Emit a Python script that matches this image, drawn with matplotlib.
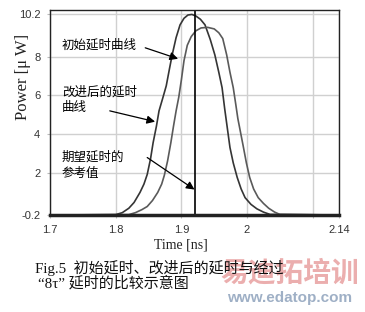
import matplotlib
matplotlib.use("Agg")
import matplotlib.pyplot as plt

# ---- data ----
improved_t = [1.70, 1.800, 1.810, 1.820, 1.828, 1.837, 1.843, 1.848, 1.853, 1.857, 1.862, 1.866,
              1.872, 1.877, 1.882, 1.886, 1.892, 1.898, 1.904, 1.910, 1.916, 1.922, 1.929, 1.936,
              1.944, 1.951, 1.957, 1.962, 1.966, 1.970, 1.974, 1.979, 1.985, 1.991, 1.997, 2.006,
              2.015, 2.025, 2.035, 2.14]
improved_p = [-0.2, -0.18, -0.08, 0.15, 0.45, 0.97, 1.4, 1.9, 2.7, 3.55, 4.4, 5.2,
              5.9, 6.5, 7.4, 8.1, 9.0, 9.66, 10.0, 10.17, 10.2, 10.12, 9.95, 9.66,
              8.9, 8.1, 7.2, 6.4, 5.3, 4.3, 3.3, 2.5, 1.75, 1.15, 0.7, 0.35,
              0.12, -0.05, -0.17, -0.2]

initial_t = [1.70, 1.820, 1.830, 1.840, 1.848, 1.856, 1.864, 1.870, 1.874, 1.879, 1.884, 1.888,
             1.892, 1.896, 1.900, 1.904, 1.909, 1.915, 1.922, 1.930, 1.940, 1.950, 1.957, 1.963,
             1.969, 1.974, 1.979, 1.983, 1.986, 1.990, 1.994, 1.999, 2.004, 2.010, 2.017, 2.025,
             2.033, 2.042, 2.050, 2.14]
initial_p = [-0.2, -0.18, -0.08, 0.08, 0.24, 0.55, 0.97, 1.4, 1.85, 2.6, 3.55, 4.4,
             5.2, 5.9, 6.8, 7.8, 8.6, 9.05, 9.35, 9.5, 9.53, 9.45, 9.25, 8.95,
             8.1, 7.2, 6.4, 5.5, 4.8, 4.1, 3.4, 2.5, 1.75, 1.15, 0.7, 0.4,
             0.15, -0.05, -0.17, -0.2]

reference_t = 1.921

xticks = [1.7, 1.8, 1.9, 2.0, 2.1, 2.14]
xticklabels = ["1.7", "1.8", "1.9", "2", "", "2.14"]
yticks = [-0.2, 2, 4, 6, 8, 10.2]
yticklabels = ["-0.2", "2", "4", "6", "8", "10.2"]

cjk = ["Noto Sans CJK SC", "DejaVu Sans"]

fig = plt.figure(figsize=(3.65, 3.12), dpi=100)
ax = fig.add_axes([50/365, 1-215/312, 289/365, 205/312])

ax.set_xlim(1.7, 2.14)
ax.set_ylim(-0.2, 10.43)
ax.set_xticks(xticks)
ax.set_xticklabels(xticklabels, family="Liberation Sans", fontsize=8, color="#333333")
ax.set_yticks(yticks)
ax.set_yticklabels(yticklabels, family="Liberation Sans", fontsize=8, color="#333333")
ax.tick_params(axis="both", length=2, color="#bbbbbb", pad=5)
ax.grid(True, color="#d0d0d0", linewidth=1)
ax.set_axisbelow(True)
for s in ax.spines.values():
    s.set_color("#222222")
    s.set_linewidth(1)
ax.spines["bottom"].set_linewidth(2.5)

ax.plot(improved_t, improved_p, color="#353535", linewidth=1.2)
ax.plot(initial_t, initial_p, color="#5a5a5a", linewidth=1.2)
ax.axvline(reference_t, color="black", linewidth=1.2)

arrow = dict(arrowstyle="-|>", color="black", lw=0.9, mutation_scale=12, shrinkA=0, shrinkB=0)
ax.text(1.718, 8.62, "初始延时曲线", family=cjk, fontsize=9, va="center", ha="left")
ax.annotate("", xy=(1.895, 7.9), xytext=(1.845, 8.47), arrowprops=arrow)
ax.text(1.718, 6.19, "改进后的延时", family=cjk, fontsize=9, va="center", ha="left")
ax.text(1.718, 5.36, "曲线", family=cjk, fontsize=9, va="center", ha="left")
ax.annotate("", xy=(1.860, 4.64), xytext=(1.791, 5.2), arrowprops=arrow)
ax.text(1.718, 2.78, "期望延时的", family=cjk, fontsize=9, va="center", ha="left")
ax.text(1.718, 1.95, "参考值", family=cjk, fontsize=9, va="center", ha="left")
ax.annotate("", xy=(1.920, 1.12), xytext=(1.848, 2.78), arrowprops=arrow)

fig.text(23/365, 1-77/312, "Power [μ W]", family="Liberation Serif", fontsize=12,
         rotation=90, ha="center", va="center", color="#222222")
fig.text(181/365, 1-245/312, "Time [ns]", family="Liberation Serif", fontsize=10,
         ha="center", va="center", color="#222222")

# watermark
fig.text(290/365, 1-274/312, "易迪拓培训", family=cjk, fontsize=20, fontweight="bold",
         color="#e8a0a0", ha="center", va="center", alpha=0.85)
fig.text(290/365, 1-298/312, "www.edatop.com", family="Liberation Sans", fontsize=11,
         fontweight="bold", color="#9fb0c6", ha="center", va="center")

fig.text(35/365, 1-268/312, "Fig.5  初始延时、改进后的延时与经过", family=["Liberation Serif", "Noto Sans CJK SC"],
         fontsize=10.8, ha="left", va="center", color="#111111")
fig.text(38/365, 1-283/312, "“8τ” 延时的比较示意图", family=["Liberation Serif", "Noto Sans CJK SC"],
         fontsize=10.8, ha="left", va="center", color="#111111")

fig.savefig("out.png", dpi=100)
